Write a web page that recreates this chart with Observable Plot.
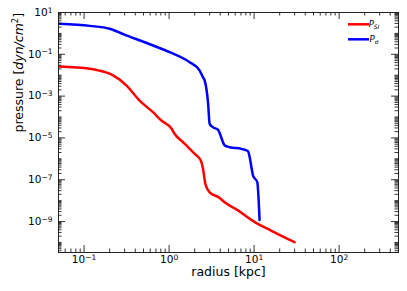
<!DOCTYPE html>
<html>
<head>
<meta charset="utf-8">
<script src="https://cdn.jsdelivr.net/npm/d3@7"></script>
<script src="https://cdn.jsdelivr.net/npm/@observablehq/plot@0.6"></script>
<style>
  html, body { margin: 0; padding: 0; background: white; }
  svg { display: block; }
</style>
</head>
<body>
<div id="chart"></div>
<script>
// ---- data ----
const seriesNames = ["P_SI", "P_σ"];
const rSI = [0.051, 0.117, 0.151, 0.185, 0.219, 0.316, 0.447, 0.646, 0.813, 1.07, 1.16, 1.53, 2.0, 2.36, 2.51, 2.67, 3.0, 3.94, 4.51, 6.46, 10.2, 15.8, 30];
const pSI = [0.0263, 0.0204, 0.0166, 0.0132, 9.8e-3, 3.2e-3, 6.2e-4, 1.7e-4, 6.8e-5, 2.75e-5, 1.58e-5, 5.2e-6, 1.74e-6, 8.3e-7, 3.3e-7, 6.3e-8, 2.5e-8, 1.35e-8, 8.3e-9, 3.4e-9, 9.3e-10, 3.7e-10, 1.02e-10];
const rSigma = [0.051, 0.117, 0.2, 0.288, 0.649, 1.016, 1.746, 2.29, 2.51, 2.62, 2.88, 3.0, 3.30, 3.77, 4.51, 5.16, 7.08, 8.49, 8.87, 9.73, 10.9, 11.6];
const pSigma = [2.88, 2.29, 1.66, 0.93, 0.263, 0.126, 0.0417, 0.0166, 7.9e-3, 5.6e-3, 4.3e-4, 4.7e-5, 3.2e-5, 2.45e-5, 4.4e-6, 3.6e-6, 3.0e-6, 2.3e-6, 1.2e-6, 1.58e-7, 7.6e-8, 1.2e-9];
const xMajorTicks = [0.1, 1, 10, 100];
const yMajorTicks = [10, 0.1, 1e-3, 1e-5, 1e-7, 1e-9];
const xLabel = "radius [kpc]";
const yLabel = "pressure [dyn/cm²]";

// ---- derived tables ----
const si = rSI.map((r, i) => ({r, p: pSI[i]}));
const sigma = rSigma.map((r, i) => ({r, p: pSigma[i]}));
const xDomain = [0.05, 500];
const yDomain = [3.3e-11, 10];
const xMinor = [];
for (let n = -2; n <= 2; n++) for (let k = 2; k <= 9; k++) {
  const v = k * Math.pow(10, n);
  if (v >= xDomain[0] && v <= xDomain[1]) xMinor.push(v);
}
const yMinor = [];
for (let n = -11; n <= 0; n++) for (let k = 1; k <= 9; k++) {
  const v = k * Math.pow(10, n);
  const isMajor = k === 1 && yMajorTicks.some(t => Math.abs(Math.log10(t) - n) < 1e-9);
  if (v >= yDomain[0] && v <= yDomain[1] && !isMajor) yMinor.push(v);
}
const expo = v => Math.round(Math.log10(v));
const fmt = v => "10^" + expo(v);

const W = 407, H = 291, mL = 58, mR = 9, mT = 12, mB = 39;
const pw = W - mL - mR, ph = H - mT - mB;
const major = 7, minor = 3.5;

const chart = Plot.plot({
  width: W, height: H,
  marginLeft: mL, marginRight: mR, marginTop: mT, marginBottom: mB,
  x: {type: "log", domain: xDomain},
  y: {type: "log", domain: yDomain},
  style: {fontFamily: "DejaVu Sans", fontSize: "10.5px", background: "white", color: "black"},
  marks: [
    Plot.line(si, {x: "r", y: "p", stroke: "#ff0000", strokeWidth: 2.5, curve: "monotone-x"}),
    Plot.line(sigma, {x: "r", y: "p", stroke: "#0000ff", strokeWidth: 2.5, curve: "monotone-x"}),
    // inward ticks, all four sides
    Plot.tickX(xMinor, {x: d => d, insetTop: ph - minor, stroke: "black", strokeWidth: 0.8}),
    Plot.tickX(xMinor, {x: d => d, insetBottom: ph - minor, stroke: "black", strokeWidth: 0.8}),
    Plot.tickX(xMajorTicks, {x: d => d, insetTop: ph - major, stroke: "black", strokeWidth: 0.8}),
    Plot.tickX(xMajorTicks, {x: d => d, insetBottom: ph - major, stroke: "black", strokeWidth: 0.8}),
    Plot.tickY(yMinor, {y: d => d, insetRight: pw - minor, stroke: "black", strokeWidth: 0.8}),
    Plot.tickY(yMinor, {y: d => d, insetLeft: pw - minor, stroke: "black", strokeWidth: 0.8}),
    Plot.tickY(yMajorTicks, {y: d => d, insetRight: pw - major, stroke: "black", strokeWidth: 0.8}),
    Plot.tickY(yMajorTicks, {y: d => d, insetLeft: pw - major, stroke: "black", strokeWidth: 0.8}),
    Plot.axisX(xMajorTicks, {anchor: "bottom", tickSize: 0, tickPadding: 3, tickFormat: fmt, label: null, className: "xt"}),
    Plot.axisY(yMajorTicks, {anchor: "left", tickSize: 0, tickPadding: 6, tickFormat: fmt, label: null, className: "yt"}),
    Plot.frame({stroke: "#222", strokeWidth: 1}),
    Plot.text([xLabel], {frameAnchor: "bottom", dy: 23.5, text: d => d, fontSize: 12.5}),
    Plot.text([yLabel], {frameAnchor: "left", dx: -40, rotate: -90, text: d => d, fontSize: 12.5, className: "ylab"})
  ]
});
document.getElementById("chart").appendChild(chart);

const svg = d3.select(chart);
// power-of-ten tick labels with real superscripts
svg.selectAll(".xt text, .yt text").each(function() {
  const t = d3.select(this);
  const s = t.text();
  const m = s.match(/^10\^(-?\d+)$/);
  if (!m) return;
  t.text(null);
  t.append("tspan").text("10");
  t.append("tspan").attr("font-size", "7.5px").attr("dy", "-0.45em")
    .text(m[1].replace("-", "−"));
});
// italic math part of the y label
svg.selectAll(".ylab text").each(function() {
  const t = d3.select(this);
  t.text(null);
  t.append("tspan").text("pressure [");
  t.append("tspan").attr("font-style", "italic").text("dyn/cm");
  t.append("tspan").attr("font-size", "8.5px").attr("dy", "-0.5em").text("2");
  t.append("tspan").attr("dy", "0.35em").text("]");
});

// legend (upper right, inside axes)
const colors = ["#ff0000", "#0000ff"];
const subs = ["SI", "σ"];
const leg = svg.append("g").attr("font-family", "DejaVu Sans");
seriesNames.forEach((name, i) => {
  const y = 24.3 + i * 15;
  leg.append("line").attr("x1", 348).attr("x2", 369).attr("y1", y).attr("y2", y)
    .attr("stroke", colors[i]).attr("stroke-width", 2.5);
  const t = leg.append("text").attr("x", 374).attr("y", y + 3).attr("font-size", 8.5).attr("font-style", "italic");
  t.append("tspan").text("P");
  t.append("tspan").attr("font-size", 6).attr("dy", 2).text(subs[i]);
});
</script>
</body>
</html>
